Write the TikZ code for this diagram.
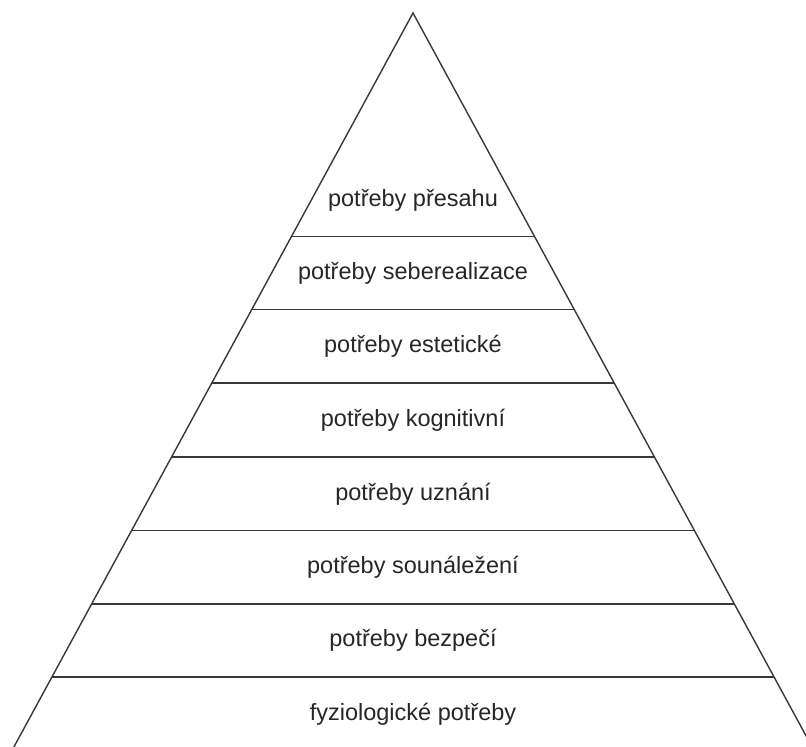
\documentclass[tikz,border=0pt]{standalone}
\usepackage{fontspec}
\setmainfont{Liberation Sans}
\begin{document}
\begin{tikzpicture}[x=1pt,y=-1pt,
  edge/.style={draw=black!78, line width=1.4pt},
  lab/.style={font=\fontsize{23.5}{28}\selectfont, text=black!85, inner sep=0pt}]
\useasboundingbox (0,0) rectangle (806,747);
\clip (0,0) rectangle (806,747);
\coordinate (apex) at (413,13);
\coordinate (bl) at (6.8,760);
\coordinate (br) at (819.2,760);
\draw[edge] (bl) -- (apex) -- (br);
\foreach \i/\y in {1/236.5,2/309.5,3/383,4/457,5/530.5,6/604,7/677} {
  \pgfmathsetmacro\dx{0.5437*(\y-13)}
  \coordinate (L\i) at ({413-\dx},\y);
  \coordinate (R\i) at ({413+\dx},\y);
  \draw[edge] (L\i) -- (R\i);
}
\node[lab] (n1) at (413,200) {potřeby přesahu};
\node[lab] (n2) at (413,273) {potřeby seberealizace};
\node[lab] (n3) at (413,346) {potřeby estetické};
\node[lab] (n4) at (413,420) {potřeby kognitivní};
\node[lab] (n5) at (413,494) {potřeby uznání};
\node[lab] (n6) at (413,567) {potřeby sounáležení};
\node[lab] (n7) at (413,640) {potřeby bezpečí};
\node[lab] (n8) at (413,714) {fyziologické potřeby};
\end{tikzpicture}
\end{document}
